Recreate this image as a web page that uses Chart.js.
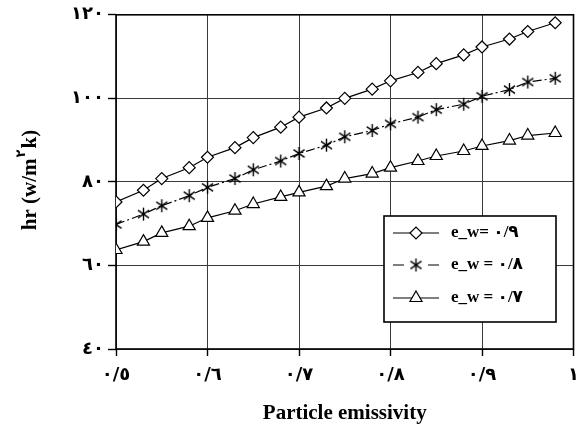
<!DOCTYPE html>
<html>
<head>
<meta charset="utf-8">
<script src="https://cdn.jsdelivr.net/npm/chart.js@4.4.1/dist/chart.umd.min.js"></script>
<style>
html,body{margin:0;padding:0;background:#fff;}
#wrap{width:588px;height:436px;}
</style>
</head>
<body>
<div id="wrap"><canvas id="c" width="588" height="436"></canvas></div>
<script>
// ---- data ----
const emissivity = [0.5,0.53,0.55,0.58,0.6,0.63,0.65,0.68,0.7,0.73,0.75,0.78,0.8,0.83,0.85,0.88,0.9,0.93,0.95,0.98];
const hrEw09 = [75.2,78.0,80.8,83.4,85.9,88.2,90.6,93.1,95.5,97.7,100.0,102.2,104.2,106.2,108.3,110.4,112.3,114.2,116.0,118.1];
const hrEw08 = [69.8,72.3,74.3,76.7,78.7,80.8,82.9,85.0,86.8,88.8,90.8,92.3,93.9,95.5,97.3,98.6,100.5,102.1,103.9,104.8];
const hrEw07 = [63.7,65.7,67.8,69.4,71.4,73.1,74.7,76.4,77.5,79.0,80.8,82.0,83.4,85.0,86.2,87.4,88.6,89.9,91.1,91.7];
const seriesLabels = ['e_w= ٠/٩','e_w = ٠/٨','e_w = ٠/٧'];
const xTickLabels = ['٠/٥','٠/٦','٠/٧','٠/٨','٠/٩','١'];
const yTickLabels = ['٤٠','٦٠','٨٠','١٠٠','١٢٠'];
const xTitle = 'Particle emissivity';
const yTitleParts = ['hr (w/m','٢','k)'];

// asterisk marker
function makeAsterisk(){
  const s = 15, c = document.createElement('canvas');
  c.width = s; c.height = s;
  const g = c.getContext('2d');
  g.strokeStyle = '#000'; g.lineWidth = 1.4;
  const m = s/2, r = 6.5;
  g.beginPath();
  g.moveTo(m, m-r); g.lineTo(m, m+r);
  g.moveTo(m-r*0.85, m-r*0.6); g.lineTo(m+r*0.85, m+r*0.6);
  g.moveTo(m-r*0.85, m+r*0.6); g.lineTo(m+r*0.85, m-r*0.6);
  g.stroke();
  return c;
}
const asterisk = makeAsterisk();

const mk = (ys) => emissivity.map((x,i)=>({x:x, y:ys[i]}));
const pointStyles = ['rectRot', asterisk, 'triangle'];
const radii = [6, 6, 7];
const dashes = [[], [9,3,2,3], []];

const serif = "'Liberation Serif','Times New Roman','DejaVu Sans',serif";
const digitFont = "'DejaVu Sans','Liberation Serif',sans-serif";

const frameAndLegend = {
  id: 'frameAndLegend',
  beforeDatasetsDraw(chart){
    const {ctx, chartArea:a} = chart;
    ctx.save();
    ctx.strokeStyle = '#000'; ctx.lineWidth = 1.6;
    ctx.strokeRect(a.left, a.top, a.right-a.left, a.bottom-a.top);
    ctx.restore();
  },
  afterDraw(chart){
    const ctx = chart.ctx;
    // y-axis title
    ctx.save();
    ctx.translate(31, 180);
    ctx.rotate(-Math.PI/2);
    ctx.fillStyle = '#000';
    ctx.textBaseline = 'middle';
    const big = 'bold 21px ' + serif, small = 'bold 13px ' + digitFont;
    ctx.font = big; const w0 = ctx.measureText(yTitleParts[0]).width;
    ctx.font = small; const w1 = ctx.measureText(yTitleParts[1]).width + 2;
    ctx.font = big; const w2 = ctx.measureText(yTitleParts[2]).width;
    let x = -(w0+w1+w2)/2;
    ctx.font = big; ctx.textAlign='left'; ctx.fillText(yTitleParts[0], x, 0); x += w0 + 1;
    ctx.font = small; ctx.fillText(yTitleParts[1], x, -9); x += w1 - 1;
    ctx.font = big; ctx.fillText(yTitleParts[2], x, 0);
    ctx.restore();

    // legend box
    const L = 384, T = 216, R = 556, B = 322;
    ctx.save();
    ctx.fillStyle = '#fff';
    ctx.fillRect(L, T, R-L, B-T);
    ctx.strokeStyle = '#000'; ctx.lineWidth = 1.6;
    ctx.strokeRect(L, T, R-L, B-T);
    const rows = [233, 265, 298];
    chart.data.datasets.forEach((ds, i) => {
      const y = rows[i];
      ctx.strokeStyle = '#000'; ctx.lineWidth = 1.2;
      ctx.beginPath();
      if (i === 1) {
        ctx.moveTo(393, y); ctx.lineTo(404, y);
        ctx.moveTo(428, y); ctx.lineTo(439, y);
      } else {
        ctx.moveTo(393, y); ctx.lineTo(439, y);
      }
      ctx.stroke();
      ctx.fillStyle = '#fff'; ctx.strokeStyle = '#000'; ctx.lineWidth = 1.2;
      Chart.helpers.drawPoint(ctx, {pointStyle: ds.pointStyle, radius: ds.pointRadius, borderWidth: 1.2, rotation: 0}, 416, y);
      ctx.fillStyle = '#000';
      ctx.font = 'bold 17px ' + serif;
      ctx.textAlign = 'left'; ctx.textBaseline = 'middle';
      ctx.fillText(ds.label, 451, y);
    });
    ctx.restore();
  }
};

new Chart(document.getElementById('c'), {
  type: 'line',
  data: {
    datasets: [hrEw09, hrEw08, hrEw07].map((ys, i) => ({
      label: seriesLabels[i],
      data: mk(ys),
      borderColor: '#000',
      borderWidth: 1.2,
      borderDash: dashes[i],
      backgroundColor: '#fff',
      pointStyle: pointStyles[i],
      pointRadius: radii[i],
      pointBackgroundColor: '#fff',
      pointBorderColor: '#000',
      pointBorderWidth: 1.2,
      tension: 0,
      fill: false
    }))
  },
  options: {
    responsive: false,
    animation: false,
    layout: { padding: { left: 0, top: 13, right: 9, bottom: 0 } },
    plugins: { legend: { display: false }, tooltip: { enabled: false } },
    scales: {
      x: {
        type: 'linear', min: 0.5, max: 1,
        afterFit(s){ s.height = 87; },
        border: { display: false },
        grid: { color: '#3a3a3a', lineWidth: 1, tickColor: '#000', tickLength: 7, tickWidth: 1.4 },
        ticks: {
          stepSize: 0.1, padding: 9, color: '#000',
          font: { family: digitFont, size: 18, weight: 'bold' },
          callback: (v, i) => xTickLabels[i]
        },
        title: {
          display: true, text: xTitle, color: '#000',
          font: { family: serif, size: 21, weight: 'bold' },
          padding: { top: 0, bottom: 10 }
        }
      },
      y: {
        min: 40, max: 120,
        afterFit(s){ s.width = 116; },
        border: { display: false },
        grid: { color: '#3a3a3a', lineWidth: 1, tickColor: '#000', tickLength: 8, tickWidth: 1.4 },
        ticks: {
          stepSize: 20, padding: 4, color: '#000',
          font: { family: digitFont, size: 18, weight: 'bold' },
          callback: (v, i) => yTickLabels[i]
        }
      }
    }
  },
  plugins: [frameAndLegend]
});
</script>
</body>
</html>
